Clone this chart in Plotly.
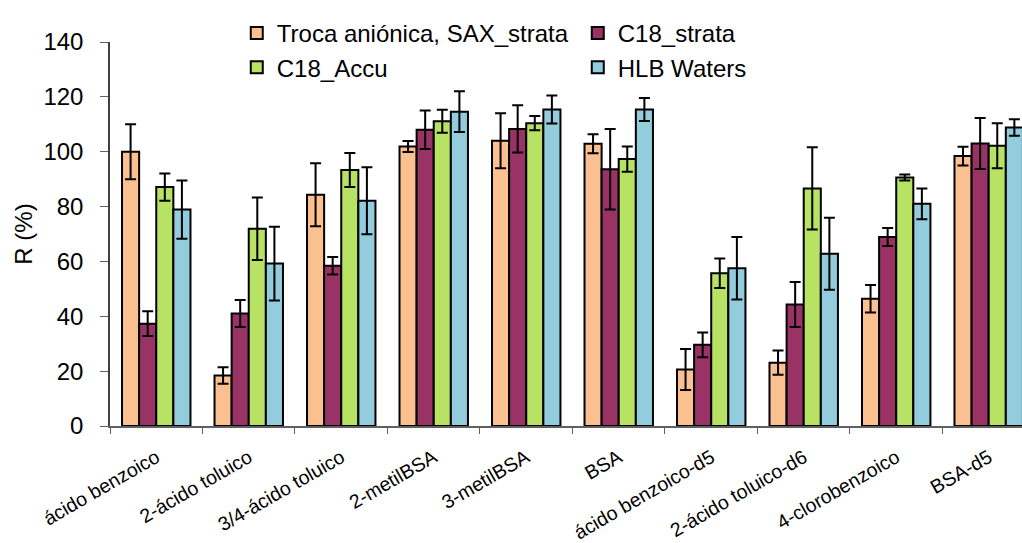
import plotly.graph_objects as go

# Compounds on the category axis
compounds = [
    "ácido benzoico", "2-ácido toluico", "3/4-ácido toluico", "2-metilBSA",
    "3-metilBSA", "BSA", "ácido benzoico-d5", "2-ácido toluico-d6",
    "4-clorobenzoico", "BSA-d5",
]

# Recovery R (%) per sorbent, with standard deviations
sax_strata = [100.0, 18.4, 84.3, 101.9, 104.0, 102.9, 20.6, 23.1, 46.4, 98.4]
sax_strata_sd = [10.0, 3.0, 11.5, 2.0, 10.0, 3.5, 7.5, 4.4, 5.0, 3.4]

c18_strata = [37.3, 41.0, 58.4, 108.0, 108.3, 93.6, 29.6, 44.3, 68.9, 103.0]
c18_strata_sd = [4.5, 4.9, 3.2, 7.0, 8.6, 14.7, 4.5, 8.2, 3.3, 9.3]

c18_accu = [87.1, 71.9, 93.3, 111.1, 110.4, 97.3, 55.7, 86.6, 90.6, 102.2]
c18_accu_sd = [5.0, 11.4, 6.2, 4.2, 2.6, 4.6, 5.4, 15.0, 1.1, 8.2]

hlb_waters = [78.9, 59.2, 82.1, 114.6, 115.4, 115.4, 57.5, 62.8, 81.0, 108.8]
hlb_waters_sd = [10.6, 13.4, 12.2, 7.4, 5.1, 4.2, 11.4, 13.1, 5.6, 3.0]

series = [
    ("Troca aniónica, SAX_strata", sax_strata, sax_strata_sd, "#FAC08F"),
    ("C18_strata", c18_strata, c18_strata_sd, "#993366"),
    ("C18_Accu", c18_accu, c18_accu_sd, "#B7E264"),
    ("HLB Waters", hlb_waters, hlb_waters_sd, "#93CDDD"),
]

FONT = "Arial, Liberation Sans, sans-serif"

fig = go.Figure()
for name, vals, sds, color in series:
    fig.add_trace(go.Bar(
        name=name,
        x=compounds,
        y=vals,
        marker=dict(color=color, line=dict(color="black", width=2)),
        error_y=dict(type="data", array=sds, visible=True,
                     color="black", thickness=2, width=5.5),
    ))

fig.update_layout(
    width=1022,
    height=543,
    margin=dict(l=110, r=0, t=42, b=117, autoexpand=False),
    paper_bgcolor="white",
    plot_bgcolor="white",
    barmode="group",
    bargap=0.26,
    bargroupgap=0,
    font=dict(family=FONT, color="black"),
    legend=dict(
        orientation="h",
        x=0.139, xanchor="left",
        y=1.081, yanchor="top",
        entrywidth=296,
        entrywidthmode="pixels",
        font=dict(size=24, family=FONT, color="black"),
        bgcolor="rgba(0,0,0,0)",
        itemclick=False,
        traceorder="normal",
    ),
    showlegend=True,
)

fig.update_xaxes(
    type="category",
    range=[-0.5, 9.36],
    showline=True, linecolor="#606060", linewidth=1.5,
    ticks="outside", tickson="boundaries", ticklen=6, tickcolor="#606060",
    tickangle=-30,
    ticklabelstandoff=11,
    tickfont=dict(size=19.5, family=FONT, color="black"),
    showgrid=False,
)

fig.update_yaxes(
    range=[0, 140],
    dtick=20,
    showline=True, linecolor="#404040", linewidth=1.5,
    ticks="outside", ticklen=8, tickcolor="#606060",
    ticklabelstandoff=12,
    tickfont=dict(size=24, family=FONT, color="black"),
    title=dict(text="R (%)", font=dict(size=24, family=FONT, color="black"), standoff=4),
    showgrid=False,
    zeroline=False,
)

fig.write_html("out.html")
